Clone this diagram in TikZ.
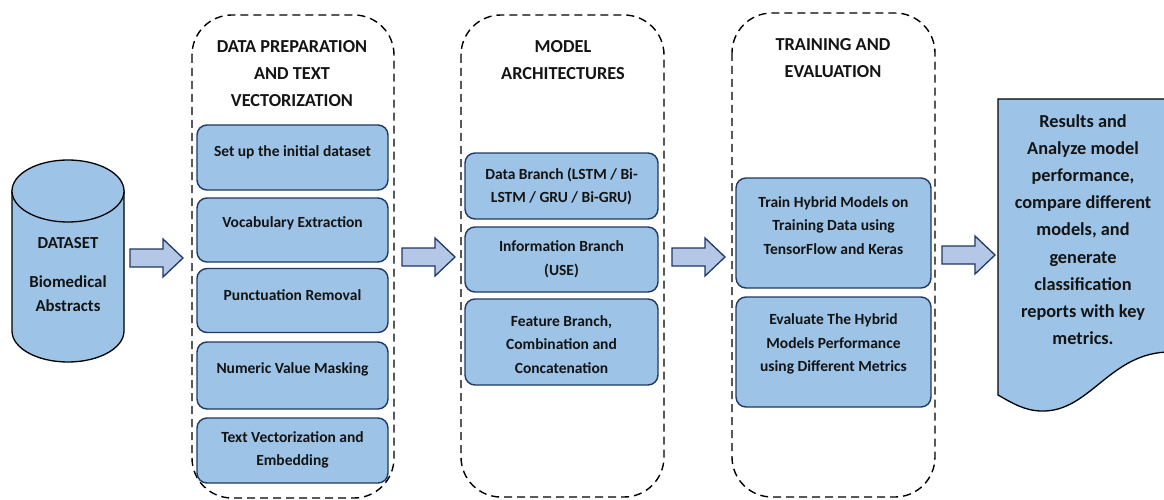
\documentclass[tikz,border=0pt]{standalone}
\usepackage{fontspec}
\setmainfont{Carlito}
\definecolor{boxblue}{RGB}{157,195,230}
\definecolor{arrowblue}{RGB}{180,199,231}
\definecolor{navy}{RGB}{32,56,100}
\definecolor{ink}{RGB}{20,20,20}
\tikzset{
  stage/.style={draw=black, dashed, dash pattern=on 8pt off 5pt, line width=1.4pt, rounded corners=40pt},
  stepbox/.style={draw=navy, fill=boxblue, line width=1.4pt, rounded corners=10pt, inner sep=0pt},
  steptext/.style={text=ink, font=\fontsize{15.5}{23.5}\selectfont\bfseries, align=center, inner sep=0pt},
  titletext/.style={text=ink, font=\fontsize{18.3}{27}\selectfont\bfseries, align=center, inner sep=0pt},
  bigtext/.style={text=ink, font=\fontsize{18.3}{27.2}\selectfont\bfseries, align=center, inner sep=0pt},
  cyltext/.style={text=ink, font=\fontsize{16.8}{24}\selectfont\bfseries, align=center, inner sep=0pt},
  blockarrow/.style={draw=navy, fill=arrowblue, line width=1.3pt, line join=miter},
  pics/barrow/.style={code={
    \draw[blockarrow] (0,-9) -- (33,-9) -- (33,-19) -- (53,0) -- (33,19) -- (33,9) -- (0,9) -- cycle;
  }}
}
\begin{document}
\begin{tikzpicture}[x=1pt,y=-1pt]
\useasboundingbox (0,0) rectangle (1164,500);

% dataset cylinder: body with rounded bottom, then the top ellipse
\draw[fill=boxblue, line width=1.3pt, draw=black]
  (12,191) -- (12,331) arc[start angle=180, end angle=0, x radius=56, y radius=31]
  -- (124,191) -- cycle;
\draw[fill=boxblue, line width=1.3pt, draw=black] (68,191) ellipse[x radius=56, y radius=31];
\node[cyltext] (dsname) at (68,243) {DATASET};
\node[cyltext] (dsdesc) at (68,294) {Biomedical\\Abstracts};

% stage frames
\draw[stage] (192,15) rectangle (394,498);
\draw[stage] (461,15) rectangle (664,497);
\draw[stage] (732,13) rectangle (935,497);

% stage titles
\node[titletext] (t1) at (292,74) {DATA PREPARATION\\AND TEXT\\VECTORIZATION};
\node[titletext] (t2) at (563,60) {MODEL\\ARCHITECTURES};
\node[titletext] (t3) at (833,58.5) {TRAINING AND\\EVALUATION};

% data preparation steps
\node[stepbox, minimum width=191pt, minimum height=65pt] (p1) at (292.5,157.5) {};
\node[steptext] at (292.5,152) {Set up the initial dataset};
\node[stepbox, minimum width=191pt, minimum height=64pt] (p2) at (292.5,230) {};
\node[steptext] at (292.5,223) {Vocabulary Extraction};
\node[stepbox, minimum width=191pt, minimum height=64pt] (p3) at (292.5,300.5) {};
\node[steptext] at (292.5,295) {Punctuation Removal};
\node[stepbox, minimum width=191pt, minimum height=67pt] (p4) at (292.5,375.5) {};
\node[steptext] at (292.5,369) {Numeric Value Masking};
\node[stepbox, minimum width=191pt, minimum height=65pt] (p5) at (292.5,450.5) {};
\node[steptext] at (292.5,450) {Text Vectorization and\\Embedding};

% model architecture steps
\node[stepbox, minimum width=193pt, minimum height=66pt] (m1) at (561.5,186) {};
\node[steptext] at (561.5,186.5) {Data Branch (LSTM / Bi-\\LSTM / GRU / Bi-GRU)};
\node[stepbox, minimum width=193pt, minimum height=65pt] (m2) at (561.5,259.5) {};
\node[steptext] at (561.5,259) {Information Branch\\(USE)};
\node[stepbox, minimum width=193pt, minimum height=86pt] (m3) at (561.5,342) {};
\node[steptext] at (561.5,344.5) {Feature Branch,\\Combination and\\Concatenation};

% training and evaluation steps
\node[stepbox, minimum width=195pt, minimum height=110pt] (e1) at (833.5,233) {};
\node[steptext] at (833.5,225.5) {Train Hybrid Models on\\Training Data using\\TensorFlow and Keras};
\node[stepbox, minimum width=195pt, minimum height=110pt] (e2) at (833.5,352) {};
\node[steptext] at (833.5,344) {Evaluate The Hybrid\\Models Performance\\using Different Metrics};

% results document
\draw[fill=boxblue, line width=1.3pt, draw=black]
  (998,395) -- (998,99) -- (1170,99) -- (1170,352)
  .. controls (1110,352) and (1090,412) .. (1042,411)
  .. controls (1025,411) and (1012,403) .. (998,395) -- cycle;
\node[bigtext] (res) at (1083,229.5) {Results and\\Analyze model\\performance,\\compare different\\models, and\\generate\\classification\\reports with key\\metrics.};

% block arrows between stages
\pic at (130,258) {barrow};
\pic at (402,257) {barrow};
\pic at (672,257) {barrow};
\pic at (942,255) {barrow};
\end{tikzpicture}
\end{document}
